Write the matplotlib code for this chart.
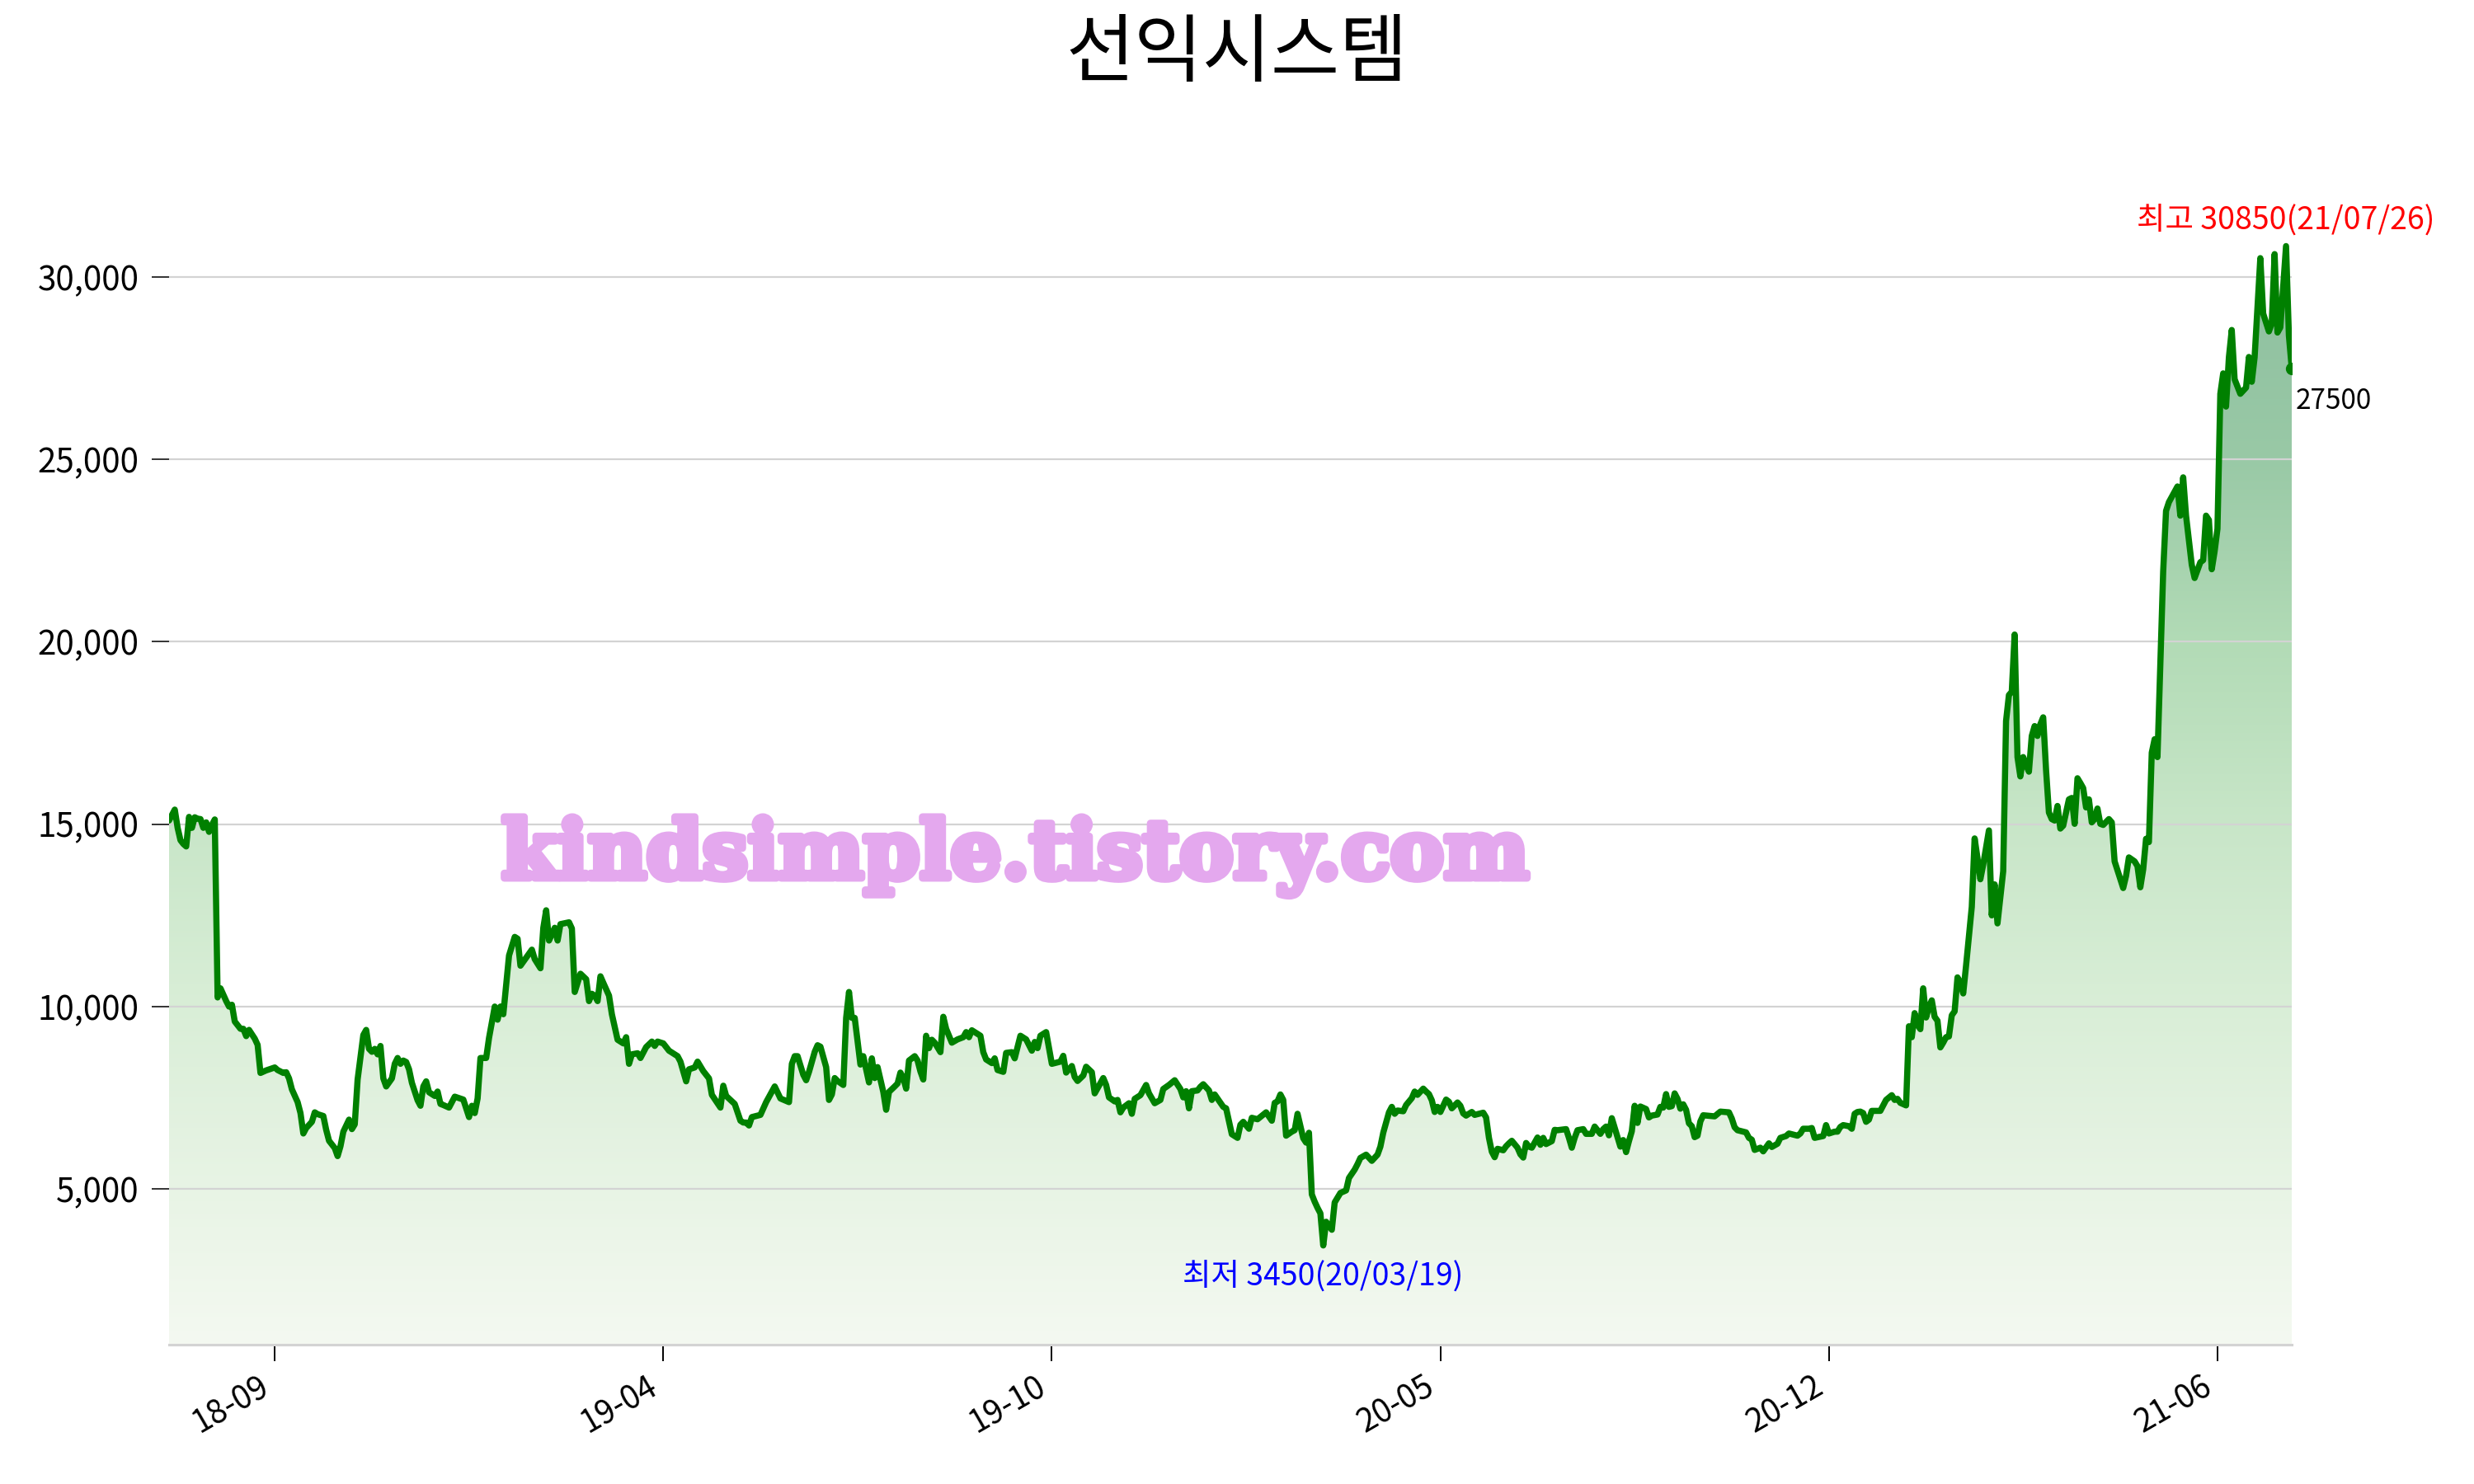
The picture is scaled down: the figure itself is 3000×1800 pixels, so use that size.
import numpy as np
import matplotlib
matplotlib.use("Agg")
import matplotlib.pyplot as plt
import matplotlib.patheffects as pe
from matplotlib.ticker import FixedLocator, FuncFormatter

plt.rcParams['font.family'] = ['Noto Sans CJK KR', 'DejaVu Sans']

# ---------------- data ----------------
title = '선익시스템'
watermark = 'kindsimple.tistory.com'
max_date = '21/07/26'
min_date = '20/03/19'

# trading-day index from the first session
day = [0, 1, 2, 3, 4, 5, 6, 7, 8, 9, 10, 11, 12, 13, 14, 15, 16, 17, 18, 20, 21, 22, 23, 25, 26, 27, 28, 30, 31, 32,
       34, 37, 38, 40, 41, 42, 43, 45, 46, 47, 48, 50, 51, 52, 54, 55, 56, 58, 59, 60, 61, 63, 64, 65, 66, 68, 69, 70,
       71, 72, 73, 74, 75, 76, 78, 79, 80, 81, 82, 83, 84, 85, 87, 88, 89, 90, 91, 93, 94, 95, 96, 98, 100, 103, 105,
       106, 107, 108, 109, 111, 112, 114, 115, 116, 117, 119, 121, 122, 123, 127, 128, 130, 131, 132, 133, 135, 136,
       137, 140, 141, 142, 144, 146, 147, 148, 149, 150, 151, 152, 154, 155, 157, 159, 160, 161, 162, 164, 165, 167,
       169, 170, 171, 173, 175, 178, 179, 181, 182, 184, 185, 187, 189, 190, 193, 194, 195, 198, 200, 201, 202, 203,
       204, 207, 209, 212, 214, 217, 218, 219, 220, 222, 223, 224, 226, 227, 228, 230, 231, 232, 233, 234, 236, 237,
       238, 239, 240, 242, 243, 245, 246, 247, 248, 250, 251, 252, 254, 255, 256, 257, 258, 259, 261, 262, 263, 264,
       265, 266, 267, 268, 270, 271, 272, 274, 276, 278, 279, 280, 281, 283, 284, 285, 286, 288, 289, 290, 292, 293,
       295, 296, 298, 300, 302, 303, 304, 305, 307, 308, 309, 312, 313, 314, 316, 317, 318, 320, 321, 323, 324, 327,
       328, 329, 331, 332, 333, 334, 336, 337, 338, 340, 342, 343, 345, 347, 348, 350, 352, 354, 355, 356, 357, 358,
       360, 361, 362, 364, 365, 366, 369, 370, 372, 374, 375, 376, 378, 379, 381, 384, 386, 387, 388, 389, 390, 391,
       393, 394, 395, 397, 398, 399, 400, 401, 402, 403, 404, 405, 407, 408, 410, 412, 413, 415, 416, 417, 419, 421,
       423, 424, 425, 427, 428, 429, 430, 432, 433, 435, 436, 437, 439, 440, 441, 442, 443, 444, 445, 447, 448, 449,
       451, 452, 453, 454, 456, 457, 460, 461, 462, 463, 464, 465, 467, 468, 469, 470, 472, 473, 474, 475, 476, 477,
       479, 480, 481, 482, 484, 485, 486, 489, 490, 491, 492, 493, 495, 496, 498, 499, 501, 502, 503, 504, 505, 506,
       508, 509, 510, 511, 512, 513, 514, 515, 517, 518, 519, 521, 522, 523, 524, 525, 526, 527, 528, 529, 530, 531,
       532, 533, 534, 535, 536, 537, 541, 543, 546, 547, 548, 549, 552, 553, 554, 555, 557, 558, 560, 561, 563, 564,
       566, 567, 570, 571, 572, 574, 575, 576, 579, 580, 581, 583, 584, 585, 586, 588, 589, 590, 591, 592, 593, 594,
       595, 596, 599, 600, 601, 603, 604, 605, 606, 608, 609, 610, 611, 612, 613, 614, 615, 616, 617, 618, 619, 620,
       621, 622, 623, 624, 625, 626, 627, 628, 629, 631, 632, 633, 634, 635, 637, 638, 639, 640, 642, 643, 644, 645,
       646, 647, 648, 649, 650, 651, 652, 653, 654, 655, 656, 657, 658, 659, 660, 661, 662, 663, 665, 666, 667, 668,
       669, 670, 671, 672, 673, 674, 675, 676, 677, 679, 680, 681, 683, 684, 685, 686, 688, 689, 690, 691, 692, 693,
       694, 695, 696, 698, 699, 700, 703, 704, 705, 706, 708, 709, 711, 712, 713, 714, 715, 716, 717, 718, 719, 720,
       721, 722, 723, 725, 727, 728, 729, 730, 732, 733, 735, 736, 737, 738, 739, 741, 742, 743]

close = [15100, 15250, 15400, 14900, 14560, 14460, 14390, 15200, 14900, 15190, 15150, 15140, 14900, 15050, 14790,
         14980, 15130, 10250, 10500, 10150, 10000, 10050, 9590, 9390, 9390, 9190, 9360, 9120, 8950, 8180,
         8250, 8330, 8260, 8180, 8200, 8030, 7730, 7380, 7080, 6520, 6670, 6840, 7100, 7050, 7000, 6620, 6320, 6120,
         5900, 6170, 6570, 6900, 6640, 6770, 8000, 9220, 9360, 8840,
         8760, 8840, 8690, 8920, 8030, 7810, 8030, 8430, 8590, 8430, 8520, 8480, 8280, 7910, 7430, 7280, 7810, 7950,
         7650, 7550, 7670, 7330, 7300, 7230, 7530, 7450, 6970,
         7280, 7080, 7480, 8590, 8590, 9140, 10000, 9640, 10000, 9790, 11400, 11910, 11860, 11120, 11560, 11300,
         11050, 12160, 12640, 11810, 12160, 11810,
         12260, 12310, 12140, 10400, 10900, 10750, 10150, 10350, 10300, 10150, 10830, 10650, 10300, 9790, 9090, 8990,
         9160, 8430, 8690, 8720, 8590, 8890,
         9040, 8920, 9040, 8990, 8790, 8640, 8490, 7950, 8280, 8330, 8490, 8230, 8030, 7580, 7230, 7830, 7550, 7330,
         6870, 6820, 6820, 6740,
         6970, 7030, 7380, 7810, 7480, 7380, 8430, 8640, 8640, 8130, 7980, 8210, 8760, 8940, 8900, 8340, 7440, 7590,
         8040, 7960, 7850, 9690,
         10400, 9690, 9690, 8410, 8640, 7920, 8580, 8040, 8340, 7660, 7170, 7660, 7810, 7890, 8190, 8040, 7750, 8520,
         8640, 8520, 8220, 8000,
         9200, 8860, 9090, 9010, 8750, 9720, 9390, 9010, 9100, 9160, 9300, 9160, 9350, 9250, 9200, 8750, 8550, 8450,
         8580, 8260, 8210, 8730,
         8750, 8580, 9200, 9100, 8790, 9030, 8860, 9200, 9300, 8860, 8430, 8490, 8650, 8190, 8370, 8070, 7960, 8110,
         8350, 8200, 7620, 8040,
         7850, 7510, 7400, 7440, 7100, 7230, 7350, 7060, 7470, 7570, 7850, 7620, 7350, 7440, 7740, 7850, 7980, 7740,
         7510, 7680, 7210, 7680,
         7700, 7800, 7870, 7700, 7440, 7590, 7250, 7210, 6500, 6400, 6760, 6840, 6650, 6950, 6910, 7100, 6870, 7360,
         7400, 7590, 7440, 6460,
         6570, 6610, 7060, 6390, 6270, 6540, 4850, 4650, 4480, 4330, 3450, 4100, 3880, 4630, 4890, 4960, 5300, 5530,
         5680, 5850, 5940, 5770,
         5940, 6160, 6540, 7100, 7250, 7060, 7150, 7130, 7300, 7490, 7670, 7580, 7750, 7670, 7600, 7430, 7110, 7250,
         7110, 7450, 7390, 7210,
         7370, 7280, 7070, 7010, 7110, 7030, 7090, 6960, 6400, 6020, 5870, 6100, 6060, 6170, 6250, 6320, 6130, 5950,
         5860, 6260, 6160, 6130,
         6410, 6210, 6400, 6230, 6310, 6620, 6610, 6640, 6400, 6130, 6400, 6610, 6640, 6510, 6510, 6710, 6510, 6640,
         6710, 6470, 6940, 6680,
         6160, 6340, 6010, 6310, 6580, 7280, 6810, 7260, 7190, 6960, 7010, 7040, 7250, 7230, 7600, 7250, 7270, 7620,
         7470, 7200, 7320, 7170,
         6800, 6720, 6420, 6460, 6850, 7020, 6990, 7120, 7100, 6930, 6690, 6610, 6550, 6400, 6350, 6070, 6130, 6030,
         6250, 6150, 6240, 6400,
         6450, 6520, 6460, 6520, 6650, 6650, 6670, 6400, 6450, 6750, 6520, 6570, 6570, 6700, 6750, 6720, 6650, 7060,
         7110, 7120, 7080, 6840,
         6900, 7140, 7140, 7290, 7440, 7570, 7440, 7470, 7360, 7290, 9460, 9160, 9820, 9500, 9380, 10500, 9700, 9990,
         10170, 9720, 9610, 8880,
         9010, 9160, 9180, 9760, 9870, 10800, 10660, 10360, 11120, 12730, 14610, 14070, 13490, 13890, 14830, 12500,
         13350, 12280, 13710, 17830, 18540, 18630,
         20200, 16840, 16310, 16840, 16620, 16440, 17420, 17690, 17420, 17740, 17930, 16490, 15320, 15140, 15100,
         15500, 14880, 14960, 15680, 15720, 15010, 16260,
         16130, 15990, 15460, 15680, 15050, 15140, 15430, 15010, 14980, 15140, 15050, 13980, 13490, 13250, 13580,
         14090, 13980, 13850, 13270, 13760, 14600, 14510,
         16960, 17330, 16840, 21930, 23590, 23830, 24260, 23460, 24510, 23460, 22110, 21750, 22180, 22240, 23460,
         23340, 21990, 22480, 23100, 26800, 27360, 26450,
         27800, 28550, 27200, 26800, 26970, 27810, 27130, 27800, 30520, 29000, 28510, 28730, 30630, 28480, 28620,
         30850, 28400, 27500]

tick_days = [37, 173, 309, 445, 581, 717]
tick_labels = ['18-09', '19-04', '19-10', '20-05', '20-12', '21-06']
y_ticks = [5000, 10000, 15000, 20000, 25000, 30000]

# ---------------- layout ----------------
W, H, DPI = 3000, 1800, 200
fig = plt.figure(figsize=(W / DPI, H / DPI), dpi=DPI)
fig.patch.set_facecolor('white')

ymin, ymax = 730, 32000
left_px, right_px, bottom_px = 205, 2779, 1631
px_per_val = 1106 / 25000
ax_h = (ymax - ymin) * px_per_val
ax = fig.add_axes([left_px / W, (H - bottom_px) / H, (right_px - left_px) / W, ax_h / H])

x = np.array(day, dtype=float)
y = np.array(close, dtype=float)

# gradient fill under the line
poly = ax.fill_between(x, y, ymin, facecolor='none', edgecolor='none')
stop_vals = [ymin, 5000, 10000, 15000, 20000, 25000, 30000, ymax]
stop_rgb = np.array([(244, 249, 241), (232, 244, 229), (217, 238, 215), (200, 230, 200),
                     (178, 219, 182), (153, 201, 166), (143, 192, 160), (140, 190, 157)]) / 255.0
gy = np.linspace(ymin, ymax, 600)
grad = np.stack([np.interp(gy, stop_vals, stop_rgb[:, k]) for k in range(3)], axis=-1)
grad = np.repeat(grad[:, None, :], 2, axis=1)
img = ax.imshow(grad, extent=[x[0], x[-1], ymin, ymax], origin='lower', aspect='auto',
                interpolation='bilinear', zorder=0.5)
img.set_clip_path(poly.get_paths()[0], transform=ax.transData)

ax.plot(x, y, color='#008000', lw=2.7, solid_joinstyle='round', solid_capstyle='round', zorder=3)
ax.plot(x[-1], y[-1], 'o', color='#008000', ms=4.5, zorder=4)

ax.set_xlim(x[0], x[-1])
ax.set_ylim(ymin, ymax)

# axes styling
for s in ['top', 'right', 'left']:
    ax.spines[s].set_visible(False)
ax.spines['bottom'].set_color('#d3d3d3')
ax.spines['bottom'].set_linewidth(1.1)
ax.spines['bottom'].set_zorder(5)

ax.set_axisbelow('line')
ax.yaxis.grid(True, color='#d3d3d3', lw=0.8)
ax.xaxis.grid(False)

ax.yaxis.set_major_locator(FixedLocator(y_ticks))
ax.yaxis.set_major_formatter(FuncFormatter(lambda v, p: f'{int(v):,}'))
ax.tick_params(axis='y', length=7.6, width=0.7, color='#333333', pad=5.5, labelsize=14.5)

ax.set_xticks(tick_days)
ax.set_xticklabels(tick_labels, rotation=30, ha='right')
ax.tick_params(axis='x', length=7.2, width=0.7, color='black', pad=4, labelsize=14)

# annotations
imax = int(np.argmax(y))
imin = int(np.argmin(y))
ax.annotate(f'최고 {int(y[imax])}({max_date})', xy=(x[imax], y[imax]), xytext=(0, 10.8),
            textcoords='offset points', ha='center', va='center', color='red', fontsize=13.5,
            annotation_clip=False, zorder=6)
ax.annotate(f'최저 {int(y[imin])}({min_date})', xy=(x[imin], y[imin]), xytext=(0, -13.7),
            textcoords='offset points', ha='center', va='center', color='blue', fontsize=13.5,
            annotation_clip=False, zorder=6)
ax.annotate(f'{int(y[-1])}', xy=(x[-1], y[-1]), xytext=(1.8, -14.4),
            textcoords='offset points', ha='left', va='center', color='black', fontsize=12,
            annotation_clip=False, zorder=6)

fig.text(0.5, 1 - 67 / H, title, ha='center', va='center', fontsize=32.5, color='black')

# watermark, sized to its span
wm = fig.text(1231 / W, 1 - 1039 / H, watermark, ha='center', va='center', color='#e4a8ee',
              fontsize=32, fontweight='bold', family='DejaVu Serif', zorder=10)
r = fig.canvas.get_renderer()
wbox = wm.get_window_extent(renderer=r)
wm.set_fontsize(32 * 1245 / wbox.width)
wm.set_path_effects([pe.withStroke(linewidth=3.2, foreground='#e4a8ee')])

fig.savefig('out.png', dpi=DPI, facecolor='white')
